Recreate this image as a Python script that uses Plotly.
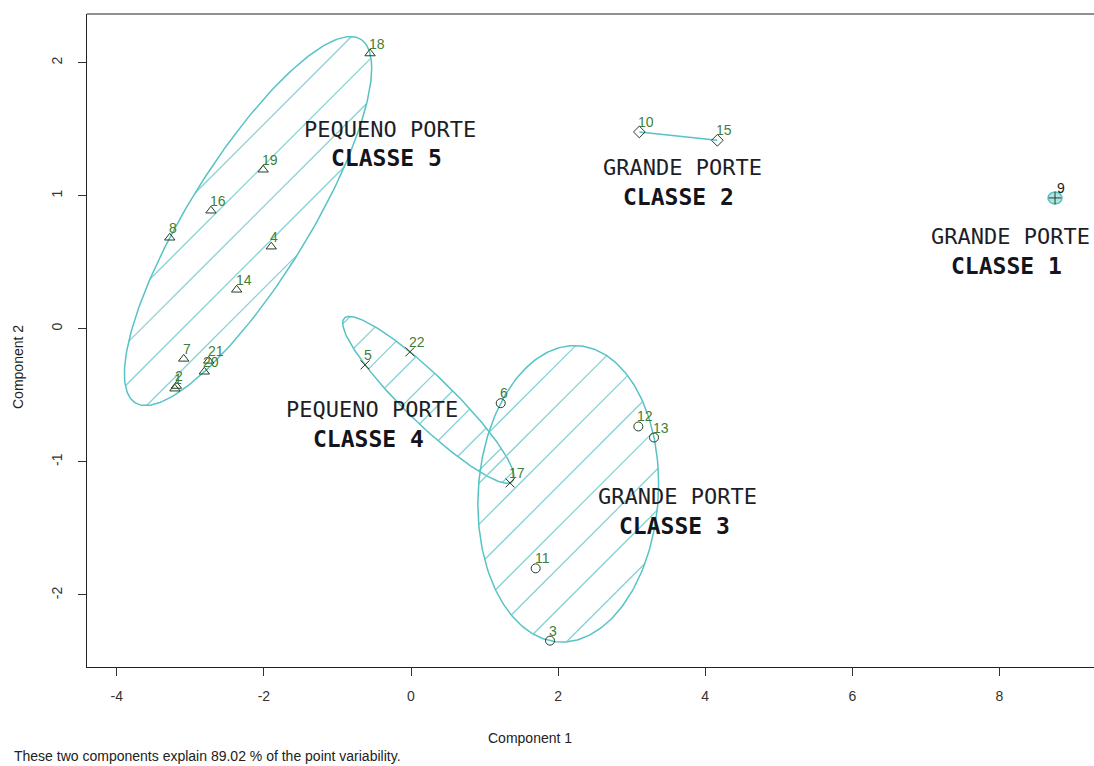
import numpy as np
import plotly.graph_objects as go

# Observation scores on the first two principal components, with cluster membership
obs_id = [1, 2, 3, 4, 5, 6, 7, 8, 9, 10, 11, 12, 13, 14, 15, 16, 17, 18, 19, 20, 21, 22]
comp1 = [-3.21, -3.19, 1.89, -1.90, -0.625, 1.22, -3.09, -3.28, 8.756, 3.104, 1.695,
         3.091, 3.304, -2.37, 4.165, -2.72, 1.346, -0.557, -2.01, -2.81, -2.75, -0.014]
comp2 = [-0.45, -0.43, -2.343, 0.617, -0.271, -0.559, -0.226, 0.684, 0.983, 1.479, -1.80,
         -0.734, -0.817, 0.293, 1.416, 0.887, -1.158, 2.068, 1.195, -0.323, -0.241, -0.173]
cluster = [5, 5, 3, 5, 4, 3, 5, 5, 1, 2, 3, 3, 3, 5, 2, 5, 4, 5, 5, 5, 5, 4]

# Cluster captions
class_porte = {1: "GRANDE PORTE", 2: "GRANDE PORTE", 3: "GRANDE PORTE",
               4: "PEQUENO PORTE", 5: "PEQUENO PORTE"}
class_title = {k: f"CLASSE {k}" for k in range(1, 6)}
# caption anchor (component 1, component 2) for each cluster
caption_pos = {5: (-0.28, 1.50), 2: (3.69, 1.21), 1: (8.15, 0.69),
               4: (-0.53, -0.61), 3: (3.63, -1.26)}
variability = 89.02

x_ticks = [-4, -2, 0, 2, 4, 6, 8]
y_ticks = [-2, -1, 0, 1, 2]

W, H = 1094, 766
MARG = dict(l=87, r=0, t=14, b=99)
XR = [-4.405, 9.286]
YR = [-2.541, 2.365]
SX = (W - MARG["l"] - MARG["r"]) / (XR[1] - XR[0])
SY = (H - MARG["t"] - MARG["b"]) / (YR[1] - YR[0])

ELL = "#55c3c6"
HATCH = "#86d2d4"
MARK = "#243d24"
LBL = "#3f7f35"
AXF = "Arial, Liberation Sans"

symbols = {1: "cross-thin-open", 2: "diamond-open", 3: "circle-open",
           4: "x-thin-open", 5: "triangle-up-open"}
hatch_gap = {5: 29.0, 4: 25.0, 3: 29.0}

x_all = np.array(comp1)
y_all = np.array(comp2)
cl_all = np.array(cluster)


def to_px(x, y):
    return (np.asarray(x) - XR[0]) * SX, (YR[1] - np.asarray(y)) * SY


def from_px(px, py):
    return np.asarray(px) / SX + XR[0], YR[1] - np.asarray(py) / SY


def mvee(P, tol=1e-9):
    """Minimum volume enclosing ellipse (Khachiyan)."""
    n, d = P.shape
    Q = np.vstack([P.T, np.ones(n)])
    u = np.ones(n) / n
    for _ in range(20000):
        X = Q @ np.diag(u) @ Q.T
        M = np.einsum("ij,ji->i", Q.T @ np.linalg.inv(X), Q)
        j = int(np.argmax(M))
        step = (M[j] - d - 1) / ((d + 1) * (M[j] - 1))
        nu = (1 - step) * u
        nu[j] += step
        if np.linalg.norm(nu - u) < tol:
            u = nu
            break
        u = nu
    c = P.T @ u
    A = np.linalg.inv(P.T @ np.diag(u) @ P - np.outer(c, c)) / d
    r = max((p - c) @ A @ (p - c) for p in P)
    return c, A / r


fig = go.Figure()

for k in [5, 4, 3, 2, 1]:
    m = cl_all == k
    P = np.column_stack([x_all[m], y_all[m]])
    if len(P) >= 3:
        c, A = mvee(P)
        # work in pixel space so the hatching sits at 45 degrees on screen
        T = np.diag([SX, -SY])
        Ti = np.linalg.inv(T)
        Ap = Ti.T @ A @ Ti
        cp = np.array(to_px(c[0], c[1]))
        L = np.linalg.cholesky(np.linalg.inv(Ap))
        t = np.linspace(0, 2 * np.pi, 240)
        bnd = cp[:, None] + L @ np.vstack([np.cos(t), np.sin(t)])
        bx, by = from_px(bnd[0], bnd[1])
        # hatch lines px + py = const
        d = np.array([1.0, -1.0]) / np.sqrt(2)
        s = hatch_gap[k]
        umin = (bnd[0] + bnd[1]).min()
        umax = (bnd[0] + bnd[1]).max()
        hx, hy = [], []
        u0 = np.ceil(umin / (s * np.sqrt(2))) * s * np.sqrt(2)
        for u in np.arange(u0, umax, s * np.sqrt(2)):
            p0 = np.array([u / 2, u / 2]) - cp
            a = d @ Ap @ d
            b = 2 * d @ Ap @ p0
            cc = p0 @ Ap @ p0 - 1
            disc = b * b - 4 * a * cc
            if disc <= 0:
                continue
            t1 = (-b - np.sqrt(disc)) / (2 * a)
            t2 = (-b + np.sqrt(disc)) / (2 * a)
            q1 = cp + p0 + t1 * d
            q2 = cp + p0 + t2 * d
            X1, Y1 = from_px(q1[0], q1[1])
            X2, Y2 = from_px(q2[0], q2[1])
            hx += [X1, X2, None]
            hy += [Y1, Y2, None]
        fig.add_trace(go.Scatter(x=hx, y=hy, mode="lines",
                                 line=dict(color=HATCH, width=1.3),
                                 hoverinfo="skip", showlegend=False))
        fig.add_trace(go.Scatter(x=bx, y=by, mode="lines",
                                 line=dict(color=ELL, width=1.5),
                                 hoverinfo="skip", showlegend=False))
    elif len(P) == 2:
        fig.add_trace(go.Scatter(x=P[:, 0], y=P[:, 1], mode="lines",
                                 line=dict(color=ELL, width=1.5),
                                 hoverinfo="skip", showlegend=False))
    else:
        # single observation: a tiny shaded disc around it
        cx, cy = to_px(P[0, 0], P[0, 1])
        t = np.linspace(0, 2 * np.pi, 60)
        bx, by = from_px(cx + 7 * np.cos(t), cy + 6 * np.sin(t))
        fig.add_trace(go.Scatter(x=bx, y=by, mode="lines", fill="toself",
                                 fillcolor="rgba(85,195,198,0.45)",
                                 line=dict(color=ELL, width=1.5),
                                 hoverinfo="skip", showlegend=False))

ann = []
for k in [5, 4, 3, 2, 1]:
    m = cl_all == k
    fig.add_trace(go.Scatter(
        x=x_all[m], y=y_all[m], mode="markers",
        marker=dict(symbol=symbols[k], size=9, color=MARK,
                    line=dict(color=MARK, width=1)),
        hoverinfo="skip", showlegend=False))

# observation numbers just above and to the right of each point
for i, xv, yv in zip(obs_id, comp1, comp2):
    ann.append(dict(x=xv, y=yv, xref="x", yref="y", text=str(i), showarrow=False,
                    xanchor="left", yanchor="bottom",
                    xshift=0 if i == 9 else -3, yshift=0,
                    font=dict(family=AXF, size=14,
                              color="#1b1b1b" if i == 9 else LBL)))

for k, (cx, cy) in caption_pos.items():
    ann.append(dict(x=cx, y=cy, xref="x", yref="y", text=class_porte[k],
                    showarrow=False, xanchor="center", yanchor="middle",
                    font=dict(family="DejaVu Sans Mono", size=22, color="#1e1e28")))
    ann.append(dict(x=cx - 0.05, y=cy - 0.22, xref="x", yref="y",
                    text=f"<b>{class_title[k]}</b>",
                    showarrow=False, xanchor="center", yanchor="middle",
                    font=dict(family="DejaVu Sans Mono", size=23, color="#14141c")))

ann.append(dict(x=(530 - MARG["l"]) / (W - MARG["l"] - MARG["r"]),
                y=(H - MARG["b"] - 738) / (H - MARG["t"] - MARG["b"]),
                xref="paper", yref="paper", text="Component 1", showarrow=False,
                xanchor="center", yanchor="middle",
                font=dict(family=AXF, size=14, color="#222")))
ann.append(dict(x=(18 - MARG["l"]) / (W - MARG["l"] - MARG["r"]),
                y=(H - MARG["b"] - 367) / (H - MARG["t"] - MARG["b"]),
                xref="paper", yref="paper", text="Component 2", showarrow=False,
                textangle=-90, xanchor="center", yanchor="middle",
                font=dict(family=AXF, size=14, color="#222")))
ann.append(dict(x=(12 - MARG["l"]) / (W - MARG["l"] - MARG["r"]),
                y=(H - MARG["b"] - 756) / (H - MARG["t"] - MARG["b"]),
                xref="paper", yref="paper",
                text=f"These two components explain {variability:.2f} % of the point variability.",
                showarrow=False, xanchor="left", yanchor="middle",
                font=dict(family=AXF, size=14, color="#222")))

fig.update_layout(
    width=W, height=H, margin=MARG,
    paper_bgcolor="white", plot_bgcolor="white",
    annotations=ann,
    shapes=[dict(type="line", xref="paper", yref="paper", x0=0, x1=1, y0=1, y1=1,
                 line=dict(color="#222", width=1.2))],
    xaxis=dict(range=XR, showgrid=False, zeroline=False, showline=True,
               linecolor="#222", linewidth=1.2, ticks="outside", ticklen=8,
               tickcolor="#333", tickvals=x_ticks, ticktext=[str(v) for v in x_ticks],
               tickfont=dict(family=AXF, size=14, color="#333"),
               ticklabelstandoff=8),
    yaxis=dict(range=YR, showgrid=False, zeroline=False, showline=True,
               linecolor="#222", linewidth=1.2, ticks="outside", ticklen=8,
               tickcolor="#333", tickvals=y_ticks, ticktext=[str(v) for v in y_ticks],
               tickangle=-90,
               tickfont=dict(family=AXF, size=14, color="#333"),
               ticklabelstandoff=10),
)

fig.write_html("out.html")
